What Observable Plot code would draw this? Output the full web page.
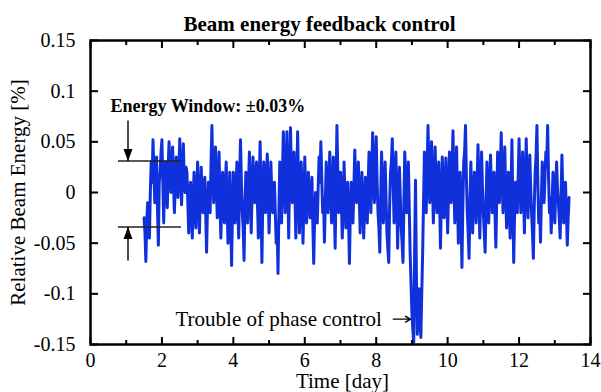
<!DOCTYPE html>
<html>
<head>
<meta charset="utf-8">
<script src="https://cdn.jsdelivr.net/npm/d3@7"></script>
<script src="https://cdn.jsdelivr.net/npm/@observablehq/plot@0.6"></script>
<style>
  html, body { margin: 0; padding: 0; background: #fff; }
  #chart svg { display: block; }
</style>
</head>
<body>
<div id="chart"></div>
<script>
// ---------- data ----------
const titleText = "Beam energy feedback control";
const xLabelText = "Time [day]";
const yLabelText = "Relative Beam Energy [%]";

const xTicksMajor = [0, 2, 4, 6, 8, 10, 12, 14];
const xTicksMinor = [1, 3, 5, 7, 9, 11, 13];
const yTicks = [-0.15, -0.1, -0.05, 0, 0.05, 0.1, 0.15];
const yTickLabels = ["-0.15", "-0.1", "-0.05", "0", "0.05", "0.1", "0.15"];

// sampling of the time series (days)
const timeStart = 1.5;
const timeStep = 0.025;
// relative beam energy [%]
const energy = [
  -0.025, -0.040, -0.068, -0.030, -0.010, -0.020, -0.045, 0.000, 0.030, 0.010, 0.052, 0.020, -0.010, 0.015, 0.035, -0.015, -0.052, 0.010, 0.020, 0.040,
  0.052, 0.010, -0.030, 0.015, 0.030, 0.000, -0.015, 0.025, 0.050, 0.020, 0.000, 0.030, 0.045, 0.005, -0.020, 0.010, 0.035, 0.015, -0.005, 0.025,
  0.053, 0.015, -0.012, 0.020, 0.048, 0.010, 0.000, 0.025, 0.020, -0.010, -0.040, -0.010, 0.010, -0.020, -0.045, -0.005, 0.020, -0.015, -0.035, 0.000,
  0.030, -0.010, -0.040, 0.000, 0.025, -0.005, -0.020, 0.005, 0.015, -0.020, -0.059, -0.015, 0.010, 0.000, -0.020, 0.030, 0.066, 0.020, -0.010, 0.015,
  0.045, 0.005, -0.025, 0.010, 0.040, -0.010, -0.045, -0.005, 0.020, -0.010, -0.030, 0.005, 0.030, -0.015, -0.050, -0.010, 0.020, -0.025, -0.072, -0.020,
  0.020, -0.010, -0.030, 0.005, 0.030, -0.015, -0.045, 0.010, 0.052, 0.010, -0.020, -0.035, -0.067, -0.010, 0.020, 0.000, -0.030, 0.010, 0.040, 0.000,
  -0.040, 0.000, 0.035, 0.005, -0.010, 0.015, 0.030, -0.010, -0.045, 0.010, 0.050, -0.015, -0.069, -0.005, 0.030, 0.000, -0.020, 0.015, 0.038, 0.000,
  -0.040, -0.005, 0.030, 0.000, -0.020, -0.005, 0.010, -0.020, -0.050, -0.030, -0.080, -0.020, 0.030, 0.000, -0.030, 0.020, 0.060, 0.015, -0.020, 0.020,
  0.060, 0.005, -0.045, 0.015, 0.064, 0.020, -0.010, 0.015, 0.040, -0.005, -0.045, 0.010, 0.060, 0.005, -0.040, -0.005, 0.030, -0.010, -0.050, -0.010,
  0.035, 0.000, -0.030, -0.005, 0.020, -0.010, -0.025, 0.000, 0.015, -0.030, -0.070, -0.025, 0.000, -0.015, -0.030, 0.005, 0.035, 0.010, 0.050, 0.015,
  -0.020, -0.005, -0.049, -0.010, 0.030, 0.000, -0.020, 0.010, 0.040, 0.005, -0.030, 0.000, 0.035, -0.010, -0.055, 0.005, 0.066, 0.020, -0.020, 0.005,
  0.020, -0.010, -0.045, -0.005, 0.030, -0.005, -0.035, -0.010, 0.010, -0.025, -0.070, -0.020, 0.010, -0.010, -0.030, 0.005, 0.042, 0.010, -0.010, 0.010,
  0.030, -0.005, -0.040, -0.005, 0.020, -0.010, -0.045, -0.010, 0.015, -0.005, -0.030, 0.010, 0.040, 0.005, -0.020, 0.020, 0.059, 0.020, -0.010, 0.020,
  0.055, 0.010, -0.020, -0.035, -0.059, -0.005, 0.040, 0.005, -0.030, 0.000, 0.030, -0.005, -0.040, -0.055, -0.069, -0.015, 0.020, 0.030, 0.053, 0.010,
  -0.030, 0.005, 0.040, -0.005, -0.055, -0.010, 0.025, -0.005, -0.035, -0.050, -0.069, -0.010, 0.040, 0.010, -0.020, 0.005, 0.030, -0.015, -0.060, -0.090,
  -0.120, -0.135, -0.148, -0.060, 0.012, -0.080, -0.140, -0.110, -0.095, -0.125, -0.143, -0.100, -0.060, -0.010, 0.040, 0.010, -0.020, 0.020, 0.066, 0.025,
  -0.010, 0.020, 0.050, 0.010, -0.030, 0.005, 0.045, 0.010, -0.020, 0.005, 0.030, -0.010, -0.055, -0.005, 0.035, 0.000, -0.025, 0.005, 0.034, 0.000,
  -0.040, 0.000, 0.040, 0.010, -0.010, 0.025, 0.061, 0.010, -0.030, 0.005, 0.045, -0.005, -0.050, -0.010, 0.020, -0.020, -0.074, -0.015, 0.030, 0.040,
  0.066, 0.015, -0.020, -0.040, -0.065, -0.010, 0.030, -0.005, -0.040, -0.005, 0.020, -0.010, -0.030, 0.010, 0.047, 0.005, -0.045, 0.000, 0.040, 0.005,
  -0.020, -0.040, -0.059, -0.010, 0.030, -0.005, -0.030, 0.005, 0.037, 0.005, -0.020, 0.000, 0.020, -0.020, -0.054, -0.005, 0.040, 0.010, -0.010, 0.025,
  0.059, 0.015, -0.020, 0.015, 0.045, 0.000, -0.035, -0.005, 0.020, -0.015, -0.045, 0.005, 0.052, -0.010, -0.069, -0.020, 0.010, -0.005, -0.020, 0.015,
  0.053, 0.010, -0.020, 0.010, 0.040, 0.000, -0.040, 0.010, 0.053, 0.010, -0.025, 0.005, 0.037, 0.005, -0.020, -0.040, -0.065, -0.015, 0.020, 0.035,
  0.066, 0.010, -0.030, -0.010, -0.049, -0.005, 0.030, 0.005, -0.010, 0.015, 0.040, 0.030, 0.066, 0.015, -0.020, -0.005, -0.040, -0.010, 0.020, 0.000,
  -0.030, 0.000, 0.030, 0.005, -0.010, -0.025, -0.045, -0.005, 0.037, 0.000, -0.030, -0.010, 0.010, -0.020, -0.052, -0.025, -0.005
];

// energy window annotation
const windowLabel = "Energy Window: \u00b10.03%";
const windowLabelPos = [0.56, 0.079];
const windowLevels = [0.031, -0.034];
const windowSpan = [0.784, 2.548];
const windowArrowX = 1.05;
const windowArrowStart = [0.071, -0.067];

// trouble annotation
const troubleLabel = "Trouble of phase control";
const troubleLabelPos = [2.38, -0.132];
const troubleArrowX = [8.48, 8.96];
const troubleArrowY = -0.125;

// ---------- build ----------
const series = energy.map((v, i) => ({t: timeStart + i * timeStep, v}));
const windowArrows = windowLevels.map((lv, i) => ({x: windowArrowX, y1: windowArrowStart[i], y2: lv}));

const headDown = {draw(ctx) { ctx.moveTo(0, 0); ctx.lineTo(-4.5, -12); ctx.lineTo(4.5, -12); ctx.closePath(); }};
const headUp = {draw(ctx) { ctx.moveTo(0, 0); ctx.lineTo(-4.5, 12); ctx.lineTo(4.5, 12); ctx.closePath(); }};

const serif = "'Liberation Serif', 'Times New Roman', Times, serif";
const blank = () => "";
const tickStyle = {tickFormat: blank, label: null, strokeWidth: 2};

const chart = Plot.plot({
  width: 601,
  height: 392,
  marginLeft: 90,
  marginRight: 11,
  marginTop: 40,
  marginBottom: 48,
  x: {domain: [0, 14], axis: null},
  y: {domain: [-0.15, 0.15], axis: null},
  style: {fontFamily: serif, fontSize: "20px", color: "black", background: "white"},
  marks: [
    // data line
    Plot.line(series, {x: "t", y: "v", stroke: "#1030dc", strokeWidth: 3, strokeLinejoin: "round"}),

    // inward ticks
    Plot.axisX({anchor: "bottom", ticks: xTicksMajor, tickSize: 7, dy: -7, ...tickStyle}),
    Plot.axisX({anchor: "bottom", ticks: xTicksMinor, tickSize: 4, dy: -4, ...tickStyle}),
    Plot.axisX({anchor: "top", ticks: xTicksMajor, tickSize: 7, dy: 7, ...tickStyle}),
    Plot.axisX({anchor: "top", ticks: xTicksMinor, tickSize: 4, dy: 4, ...tickStyle}),
    Plot.axisY({anchor: "left", ticks: yTicks, tickSize: 8, dx: 8, ...tickStyle}),
    Plot.axisY({anchor: "right", ticks: yTicks, tickSize: 8, dx: -8, ...tickStyle}),

    // tick labels
    Plot.axisX({anchor: "bottom", ticks: xTicksMajor, tickSize: 0, tickPadding: 8, label: null, fontSize: 20}),
    Plot.axisY({anchor: "left", ticks: yTicks, tickSize: 0, tickPadding: 15, label: null, fontSize: 20,
      tickFormat: d => yTickLabels[yTicks.indexOf(d)]}),

    Plot.frame({strokeWidth: 2.5}),

    // energy window annotation
    Plot.ruleY(windowLevels, {x1: windowSpan[0], x2: windowSpan[1], stroke: "#222", strokeWidth: 1.5}),
    Plot.link(windowArrows, {x1: "x", x2: "x", y1: "y1", y2: "y2", stroke: "black", strokeWidth: 1.4}),
    Plot.dot([windowArrows[0]], {x: "x", y: "y2", symbol: headDown, fill: "black", stroke: "none", r: 5}),
    Plot.dot([windowArrows[1]], {x: "x", y: "y2", symbol: headUp, fill: "black", stroke: "none", r: 5}),
    Plot.text([windowLabel], {x: windowLabelPos[0], y: windowLabelPos[1], textAnchor: "start", lineAnchor: "bottom",
      fontWeight: "bold", fontSize: 18}),

    // trouble annotation
    Plot.arrow([troubleLabel], {x1: troubleArrowX[0], x2: troubleArrowX[1], y1: troubleArrowY, y2: troubleArrowY,
      stroke: "black", strokeWidth: 1.4, headLength: 9}),
    Plot.text([troubleLabel], {x: troubleLabelPos[0], y: troubleLabelPos[1], textAnchor: "start", lineAnchor: "bottom",
      fontSize: 21}),

    // title and axis labels
    Plot.text([titleText], {frameAnchor: "top", lineAnchor: "bottom", dy: -10, dx: -21, fontWeight: "bold", fontSize: 21}),
    Plot.text([xLabelText], {frameAnchor: "bottom", lineAnchor: "bottom", dy: 43, dx: 2, fontSize: 21}),
    Plot.text([yLabelText], {frameAnchor: "left", textAnchor: "middle", rotate: -90, lineAnchor: "bottom", dx: -66, fontSize: 21})
  ]
});
document.getElementById("chart").appendChild(chart);
</script>
</body>
</html>
